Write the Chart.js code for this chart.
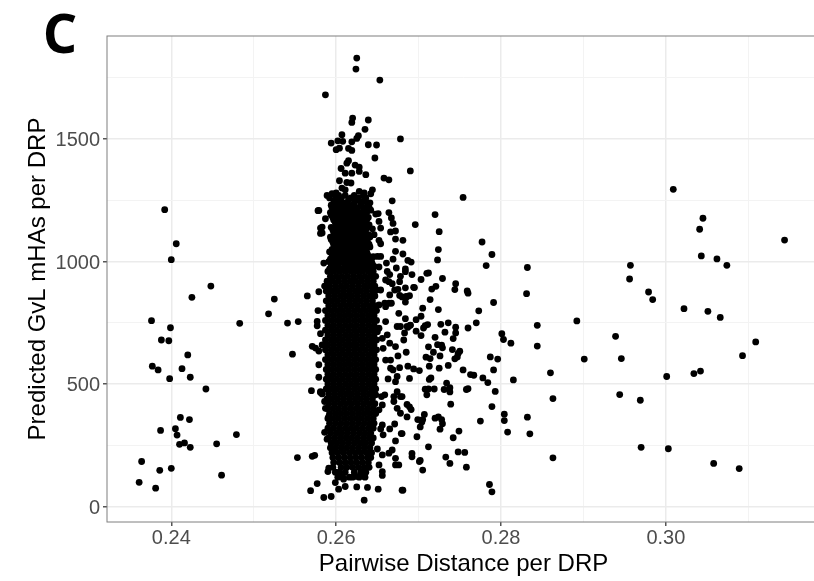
<!DOCTYPE html>
<html><head><meta charset="utf-8">
<style>
html,body{margin:0;padding:0;background:#fff;width:814px;height:581px;overflow:hidden;position:relative}
#wrap{position:absolute;left:0;top:0;width:830px;height:581px}
#tag{position:absolute;left:43px;top:1px;font-family:"Noto Sans",sans-serif;font-weight:700;font-size:53px;color:#000;line-height:64px}
</style>
<script src="https://cdn.jsdelivr.net/npm/chart.js@4"></script>
</head><body>
<div id="wrap"><canvas id="c" width="830" height="581"></canvas></div>
<div id="tag">C</div>
<script>
const xAxisLabel = "Pairwise Distance per DRP";
const yAxisLabel = "Predicted GvL mHAs per DRP";
const xTicks = [0.24,0.26,0.28,0.30];
const yTicks = [0,500,1000,1500];
const xGridValues = [0.24,0.25,0.26,0.27,0.28,0.29,0.30,0.31];
const yGridValues = [0,250,500,750,1000,1250,1500,1750];

const leftGroup = [[.2392,1212],[.2406,1073],[.2400,1008],[.2448,900],[.2425,854],[.2376,759],[.2483,748],[.2399,730],[.2388,680],[.2397,677],[.2420,619],[.2377,573],[.2384,558],[.2413,563],[.2423,528],[.2398,522],[.2442,480],[.2411,364],[.2422,355],[.2405,318],[.2387,311],[.2407,292],[.2479,294],[.2410,254],[.2416,260],[.2423,242],[.2455,256],[.2364,184],[.2386,148],[.2400,156],[.2461,128],[.2361,99],[.2381,75]];

const nearLeft = [[.2525,847],[.2518,787],[.2565,860],[.2541,749],[.2554,755],[.2547,622],[.2553,200],[.2571,205],[.2574,209],[.2577,94],[.2569,65],[.2570,473],[.2571,654],[.2575,647],[.2578,800],[.2579,877],[.2577,756],[.2577,738],[.2578,1208],[.2581,1115],[.2581,1137],[.2579,579],[.2579,528],[.2581,466],[.2581,706],[.2586,900],[.2579,635],[.2583,660],[.2581,469],[.2583,460],[.2586,429],[.2587,401],[.2591,367],[.2586,303],[.2589,275],[.2591,157],[.2590,143],[.2585,37],[.2594,41],[.2634,26],[.2599,98],[.2603,71],[.2609,112],[.2611,82],[.2625,80],[.2638,78],[.2651,71],[.2681,67],[.2625,123],[.2634,123]];

const topGroup = [[.2625,1831],[.2624,1786],[.2653,1741],[.2587,1681],[.2620,1586],[.2619,1568],[.2639,1578],[.2635,1540],[.2627,1514],[.2625,1503],[.2607,1518],[.2678,1501],[.2594,1484],[.2602,1493],[.2608,1491],[.2619,1489],[.2639,1477],[.2649,1476],[.2600,1457],[.2604,1463],[.2615,1462],[.2619,1454],[.2647,1423],[.2615,1412],[.2613,1402],[.2690,1370],[.2606,1380],[.2623,1394],[.2628,1386],[.2619,1361],[.2628,1368],[.2611,1361],[.2636,1355],[.2658,1341],[.2664,1334],[.2604,1330],[.2613,1323],[.2618,1321],[.2607,1300],[.2611,1293],[.2644,1293],[.2642,1277],[.2589,1270],[.2595,1277],[.2600,1280],[.2628,1287],[.2634,1280],[.2668,1248],[.2579,1209],[.2587,1175],[.2648,1194],[.2651,1196],[.2664,1200],[.2667,1178],[.2652,1164],[.2669,1156],[.2696,1151],[.2654,1137],[.2644,1134],[.2583,1141],[.2583,1117],[.2666,1121],[.2672,1125],[.2646,1110],[.2672,1092],[.2681,1087],[.2652,1087],[.2654,1073],[.2672,1042],[.2681,1031],[.2650,1021],[.2654,1021],[.2669,1010],[.2661,994],[.2687,1005],[.2691,998],[.2585,994],[.2692,947],[.2673,974],[.2684,970],[.2662,960],[.2678,940],[.2665,947],[.2652,978]];

const rightGroup = [[.2754,1262],[.2720,1192],[.2725,1122],[.2777,1080],[.2724,1049],[.2789,1029],[.2723,1007],[.2782,984],[.2832,976],[.2684,959],[.2710,952],[.2712,954],[.2729,931],[.2703,927],[.2745,910],[.2744,886],[.2759,880],[.2760,871],[.2721,899],[.2716,888],[.2694,895],[.2684,893],[.2831,869],[.2689,861],[.2685,858],[.2680,856],[.2684,835],[.2714,845],[.2791,833],[.2705,810],[.2724,804],[.2773,799],[.2703,777],[.2697,763],[.2684,767],[.2770,750],[.2736,750],[.2727,744],[.2745,732],[.2760,729],[.2844,740],[.2892,758],[.2711,743],[.2708,739],[.2706,729],[.2690,740],[.2686,736],[.2697,716],[.2683,709],[.2703,698],[.2732,712],[.2745,709],[.2742,686],[.2720,691],[.2801,706],[.2803,682],[.2812,667],[.2844,655],[.2682,680],[.2723,661],[.2728,659],[.2729,648],[.2712,652],[.2741,641],[.2718,630],[.2685,630],[.2750,634],[.2748,625],[.2726,615],[.2709,610],[.2714,604],[.2747,611],[.2744,603],[.2787,611],[.2796,602],[.2736,576],[.2713,573],[.2725,565],[.2687,573],[.2694,562],[.2701,555],[.2754,558],[.2791,558],[.2860,546],[.2763,539],[.2767,536],[.2778,525],[.2784,506],[.2815,517],[.2689,523],[.2713,519],[.2715,525],[.2734,504],[.2793,470],[.2758,478],[.2760,481],[.2738,485],[.2738,468],[.2731,478],[.2719,480],[.2708,479],[.2712,480],[.2710,456],[.2680,449],[.2863,441],[.2686,417],[.2689,407],[.2691,396],[.2739,418],[.2789,408],[.2686,366],[.2707,376],[.2699,355],[.2705,355],[.2720,361],[.2724,366],[.2728,355],[.2729,338],[.2704,345],[.2702,325],[.2804,377],[.2804,351],[.2832,365],[.2775,349],[.2726,316],[.2749,308],[.2808,304],[.2835,297],[.2742,281],[.2698,285],[.2680,298],[.2712,244],[.2692,217],[.2692,203],[.2748,223],[.2756,221],[.2733,202],[.2702,188],[.2738,176],[.2758,161],[.2705,149],[.2863,199],[.2786,90],[.2789,60],[.2680,67]];

const farRight = [[.3009,1295],[.3045,1177],[.3041,1132],[.3144,1088],[.3043,1023],[.3062,1011],[.3074,985],[.2957,985],[.2956,929],[.2979,876],[.2984,845],[.3022,808],[.3051,797],[.3066,772],[.2939,695],[.3109,672],[.3093,616],[.2901,602],[.2946,604],[.3042,553],[.3034,543],[.3001,531],[.2944,457],[.2969,434],[.2970,242],[.3003,236],[.3058,176],[.3089,155]];

const coreFringe = [[.2652,170],[.2656,143],[.2656,127],[.2672,197],[.2676,170],[.2672,170],[.2701,184],[.2664,218],[.2668,231],[.2656,211],[.2650,235],[.2672,268],[.2679,298],[.2665,317],[.2671,337],[.2656,333],[.2654,317],[.2657,293],[.2674,469],[.2670,449],[.2678,449],[.2670,429],[.2674,401],[.2678,381],[.2655,449],[.2659,456],[.2656,415],[.2648,456],[.2652,395],[.2677,567],[.2666,565],[.2674,531],[.2672,510],[.2663,521],[.2675,615],[.2672,653],[.2674,735],[.2678,735],[.2676,789],[.2690,741],[.2687,732],[.2660,755],[.2652,728],[.2662,701],[.2656,687],[.2650,714],[.2665,667],[.2657,646],[.2669,558],[.2660,598],[.2666,598],[.2652,823],[.2660,816],[.2664,830],[.2667,830],[.2659,830],[.2665,864],[.2671,884],[.2677,862],[.2675,887],[.2686,857],[.2695,894],[.2664,918],[.2654,884],[.2649,884],[.2660,925],[.2677,918],[.2668,910]];

const coreY = [1260,1240,1220,1200,1180,1160,1140,1120,1100,1080,1060,1040,1020,1000,980,960,940,920,900,880,860,840,820,800,780,760,740,720,700,680,660,640,620,600,580,560,540,520,500,480,460,440,420,400,380,360,340,320,300,280,260,240,220,200,180,160,140,120];
const coreX = [
[.2592,.2600,.2606,.2618,.2627,.2636],
[.2597,.2604,.2612,.2622,.2631,.2641],
[.2595,.2602,.2609,.2616,.2624,.2633,.2640],
[.2593,.2600,.2607,.2614,.2621,.2628,.2637],
[.2596,.2604,.2611,.2618,.2625,.2632,.2639],
[.2599,.2606,.2613,.2620,.2627,.2634],
[.2594,.2602,.2609,.2616,.2623,.2630,.2638],
[.2597,.2605,.2612,.2619,.2626,.2633],
[.2593,.2600,.2607,.2614,.2621,.2628,.2635,.2641],
[.2596,.2603,.2610,.2617,.2624,.2631,.2638],
[.2599,.2606,.2613,.2620,.2627,.2634,.2641],
[.2592,.2602,.2609,.2616,.2623,.2630,.2637],
[.2595,.2605,.2612,.2619,.2626,.2633,.2640,.2645],
[.2591,.2598,.2608,.2615,.2622,.2629,.2636,.2643],
[.2594,.2601,.2611,.2618,.2625,.2632,.2639,.2646],
[.2590,.2597,.2604,.2611,.2618,.2625,.2632,.2639,.2645],
[.2593,.2600,.2607,.2614,.2621,.2628,.2635,.2642,.2648],
[.2589,.2596,.2603,.2610,.2617,.2624,.2631,.2638,.2645],
[.2592,.2599,.2606,.2613,.2620,.2627,.2634,.2641,.2647],
[.2588,.2595,.2602,.2609,.2616,.2623,.2630,.2637,.2644],
[.2591,.2598,.2605,.2612,.2619,.2626,.2633,.2640,.2647],
[.2588,.2595,.2602,.2609,.2616,.2623,.2630,.2637,.2644],
[.2591,.2598,.2605,.2612,.2619,.2626,.2633,.2640,.2647],
[.2587,.2594,.2601,.2608,.2615,.2622,.2629,.2636,.2643,.2649],
[.2590,.2597,.2604,.2611,.2618,.2625,.2632,.2639,.2646],
[.2587,.2594,.2601,.2608,.2615,.2622,.2629,.2636,.2643,.2649],
[.2590,.2597,.2604,.2611,.2618,.2625,.2632,.2639,.2646],
[.2587,.2594,.2601,.2608,.2615,.2622,.2629,.2636,.2643,.2649],
[.2590,.2597,.2604,.2611,.2618,.2625,.2632,.2639,.2646],
[.2587,.2594,.2601,.2608,.2615,.2622,.2629,.2636,.2643,.2649],
[.2590,.2597,.2604,.2611,.2618,.2625,.2632,.2639,.2646],
[.2587,.2594,.2601,.2608,.2615,.2622,.2629,.2636,.2643,.2649],
[.2590,.2597,.2604,.2611,.2618,.2625,.2632,.2639,.2646],
[.2587,.2594,.2601,.2608,.2615,.2622,.2629,.2636,.2643,.2648],
[.2590,.2597,.2604,.2611,.2618,.2625,.2632,.2639,.2646],
[.2588,.2594,.2601,.2608,.2615,.2622,.2629,.2636,.2643,.2648],
[.2590,.2597,.2604,.2611,.2618,.2625,.2632,.2639,.2646],
[.2588,.2594,.2601,.2608,.2615,.2622,.2629,.2636,.2643,.2648],
[.2590,.2597,.2604,.2611,.2618,.2625,.2632,.2639,.2646],
[.2588,.2595,.2601,.2608,.2615,.2622,.2629,.2636,.2643,.2648],
[.2591,.2598,.2605,.2612,.2619,.2626,.2633,.2640,.2646],
[.2589,.2595,.2602,.2609,.2616,.2623,.2630,.2637,.2644],
[.2591,.2598,.2605,.2612,.2619,.2626,.2633,.2640,.2647],
[.2589,.2596,.2603,.2610,.2617,.2624,.2631,.2638,.2645],
[.2592,.2599,.2606,.2613,.2620,.2627,.2634,.2641,.2648],
[.2590,.2596,.2603,.2610,.2617,.2624,.2631,.2638,.2645],
[.2592,.2599,.2606,.2613,.2620,.2627,.2634,.2641,.2646],
[.2590,.2597,.2604,.2611,.2618,.2625,.2632,.2639,.2645],
[.2593,.2600,.2607,.2614,.2621,.2628,.2635,.2642],
[.2591,.2598,.2605,.2612,.2619,.2626,.2633,.2640,.2645],
[.2594,.2601,.2608,.2615,.2622,.2629,.2636,.2643],
[.2593,.2599,.2606,.2613,.2620,.2627,.2634,.2641],
[.2595,.2602,.2609,.2616,.2623,.2630,.2637,.2643],
[.2596,.2603,.2610,.2617,.2624,.2631,.2638,.2642],
[.2597,.2604,.2611,.2618,.2625,.2632,.2639],
[.2596,.2606,.2613,.2620,.2627,.2634,.2640],
[.2599,.2604,.2611,.2622,.2630,.2636],
[.2602,.2608,.2616,.2620,.2628,.2635]
];

const upperCoreY = [1270,1250,1230,1210,1190,1170,1150,1130,1110,1090,1070,1050,1030,1010,990,970];
const upperCoreX = [
[.2603,.2611,.2622,.2633],
[.2598,.2606,.2615,.2625,.2634],
[.2594,.2601,.2608,.2615,.2622,.2630,.2638],
[.2597,.2604,.2611,.2619,.2626,.2634,.2642],
[.2594,.2602,.2608,.2615,.2622,.2630,.2636],
[.2597,.2603,.2610,.2617,.2624,.2631,.2637],
[.2600,.2606,.2612,.2619,.2626,.2634,.2640],
[.2596,.2603,.2610,.2617,.2624,.2631,.2636],
[.2598,.2604,.2611,.2618,.2625,.2632,.2639],
[.2594,.2601,.2608,.2615,.2622,.2629,.2636],
[.2597,.2604,.2611,.2618,.2625,.2632,.2640],
[.2595,.2600,.2607,.2614,.2621,.2628,.2635],
[.2597,.2603,.2610,.2617,.2624,.2631,.2638],
[.2593,.2600,.2606,.2613,.2620,.2627,.2634,.2641],
[.2596,.2603,.2610,.2617,.2624,.2631,.2638,.2644],
[.2592,.2599,.2606,.2613,.2620,.2627,.2634,.2641]
];

const points = [];
[leftGroup, nearLeft, topGroup, rightGroup, farRight, coreFringe].forEach(g => g.forEach(p => points.push({x:p[0], y:p[1]})));
coreY.forEach((y,i) => coreX[i].forEach(x => points.push({x, y})));
upperCoreY.forEach((y,i) => upperCoreX[i].forEach(x => points.push({x, y})));

const isOn = (list,v) => list.some(t => Math.abs(t-v) < 1e-6);
const frame = {
  id:'frame',
  afterDraw(ch){
    const a = ch.chartArea, c = ch.ctx;
    c.save(); c.strokeStyle = '#7f7f7f'; c.lineWidth = 1;
    c.strokeRect(a.left, a.top, a.right-a.left, a.bottom-a.top);
    c.restore();
  }
};
new Chart(document.getElementById('c'), {
  type:'scatter',
  data:{datasets:[{data:points, backgroundColor:'#000', borderWidth:0, pointRadius:3.4, pointHoverRadius:3.4}]},
  plugins:[frame],
  options:{
    responsive:false, animation:false,
    layout:{padding:{left:24,right:10,top:36,bottom:2}},
    plugins:{legend:{display:false},tooltip:{enabled:false}},
    scales:{
      x:{type:'linear', min:0.2322, max:0.3187,
        border:{display:false},
        afterBuildTicks(s){ s.ticks = xGridValues.map(v => ({value:v})); },
        afterFit(s){ s.height = 57; },
        grid:{color:c=>isOn(xTicks,c.tick.value)?'#ebebeb':'#f3f3f3', lineWidth:c=>isOn(xTicks,c.tick.value)?1.5:1,
          tickColor:c=>isOn(xTicks,c.tick.value)?'#555':'rgba(0,0,0,0)', tickLength:4, drawTicks:true},
        ticks:{autoSkip:false, maxRotation:0, padding:0, color:'#4d4d4d',
          font:{family:'"Liberation Sans"',size:20},
          callback:v=>isOn(xTicks,v)?v.toFixed(2):''},
        title:{display:true, text:xAxisLabel, color:'#000', font:{family:'"Liberation Sans"',size:24}, padding:{top:0,bottom:0}}
      },
      y:{type:'linear', min:-63, max:1921,
        border:{display:false},
        afterBuildTicks(s){ s.ticks = yGridValues.map(v => ({value:v})); },
        afterFit(s){ s.width = 83; },
        grid:{color:c=>isOn(yTicks,c.tick.value)?'#ebebeb':'#f3f3f3', lineWidth:c=>isOn(yTicks,c.tick.value)?1.5:1,
          tickColor:c=>isOn(yTicks,c.tick.value)?'#555':'rgba(0,0,0,0)', tickLength:4, drawTicks:true},
        ticks:{autoSkip:false, padding:3, labelOffset:1.5, color:'#4d4d4d',
          font:{family:'"Liberation Sans"',size:20},
          callback:v=>isOn(yTicks,v)?String(v):''},
        title:{display:true, text:yAxisLabel, color:'#000', font:{family:'"Liberation Sans"',size:24}, padding:{top:0,bottom:0}}
      }
    }
  }
});
</script>
</body></html>
